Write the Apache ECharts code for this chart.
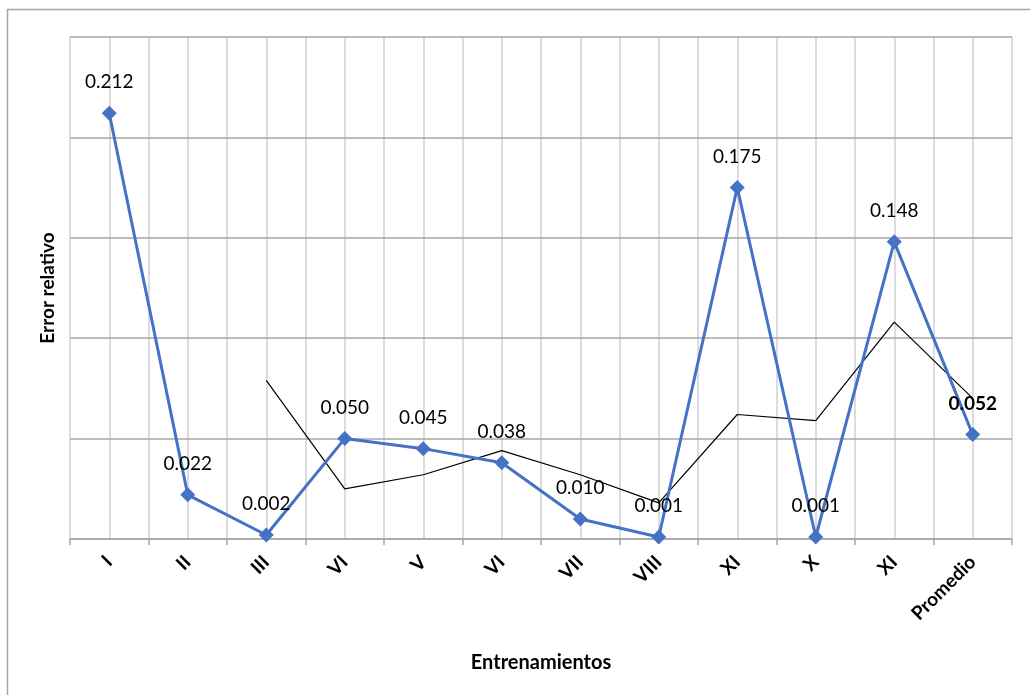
<!DOCTYPE html>
<html>
<head>
<meta charset="utf-8">
<style>
  html, body { margin: 0; padding: 0; background: #ffffff; }
  #chart { width: 1030px; height: 695px; }
</style>
<script src="https://cdn.jsdelivr.net/npm/echarts@6/dist/echarts.min.js"></script>
</head>
<body>
<div id="chart"></div>
<script>
// Training runs and their relative error
const categories = ['I', 'II', 'III', 'VI', 'V', 'VI', 'VII', 'VIII', 'XI', 'X', 'XI', 'Promedio'];
const relativeError = [0.212, 0.022, 0.002, 0.050, 0.045, 0.038, 0.010, 0.001, 0.175, 0.001, 0.148, 0.052];
// Trend line (moving average) as drawn, starting at the third run
const trendLine = [null, null, 0.079, 0.025, 0.032, 0.044, 0.032, 0.018, 0.062, 0.059, 0.108, 0.070];
// Value axis range
const yMin = 0, yMax = 0.25, yStep = 0.05;

const FONT = 'Lato, "Open Sans", "DejaVu Sans", sans-serif';
const chart = echarts.init(document.getElementById('chart'), null, { renderer: 'canvas' });

chart.setOption({
  backgroundColor: '#ffffff',
  animation: false,
  graphic: [{
    type: 'rect',
    silent: true,
    z: -10,
    shape: { x: 7.5, y: 9.5, width: 1200, height: 900 },
    style: { fill: 'none', stroke: '#a6a6a6', lineWidth: 1.5 }
  }],
  grid: { left: 70, right: 18, top: 37, bottom: 156, containLabel: false },
  xAxis: [{
    type: 'category',
    data: categories,
    boundaryGap: true,
    name: 'Entrenamientos',
    nameLocation: 'middle',
    nameGap: 114,
    nameTextStyle: { fontFamily: FONT, fontWeight: 'bold', fontSize: 20, color: '#000' },
    axisLine: { show: true, lineStyle: { color: '#a6a6a6', width: 1.5 } },
    axisTick: { show: true, alignWithLabel: false, length: 6, lineStyle: { color: '#a6a6a6', width: 1.5 } },
    axisLabel: {
      rotate: 45, margin: 20, interval: 0,
      fontFamily: FONT, fontWeight: 'bold', fontSize: 19, color: '#000'
    },
    splitLine: { show: false },
    z: 3
  }, {
    // half-step vertical gridlines (boundaries and category centres)
    type: 'value',
    min: 0, max: categories.length * 2, interval: 1,
    position: 'bottom',
    axisLine: { show: false },
    axisTick: { show: false },
    axisLabel: { show: false },
    splitLine: { show: true, lineStyle: { color: '#d0d0d0', width: 1.5 } }
  }],
  yAxis: {
    type: 'value',
    min: yMin, max: yMax, interval: yStep,
    name: 'Error relativo',
    nameLocation: 'middle',
    nameGap: 13,
    nameTextStyle: { fontFamily: FONT, fontWeight: 'bold', fontSize: 19, color: '#000' },
    axisLine: { show: false },
    axisTick: { show: false },
    axisLabel: { show: false },
    splitLine: { show: true, lineStyle: { color: '#a6a6a6', width: 1.5 } },
    z: 2
  },
  series: [{
    name: 'Tendencia',
    type: 'line',
    xAxisIndex: 0,
    data: trendLine,
    symbol: 'none',
    lineStyle: { color: '#000000', width: 1.2 },
    z: 4
  }, {
    name: 'Error relativo',
    type: 'line',
    xAxisIndex: 0,
    data: relativeError.map((v, i) => i === relativeError.length - 1
      ? { value: v, label: { fontWeight: 'bold' } }
      : v),
    symbol: 'diamond',
    symbolSize: 15,
    itemStyle: { color: '#4472c4' },
    lineStyle: { color: '#4472c4', width: 3 },
    label: {
      show: true,
      position: 'top',
      distance: 14,
      fontFamily: FONT,
      fontSize: 19,
      color: '#000',
      formatter: p => p.value.toFixed(3)
    },
    z: 5
  }]
});
</script>
</body>
</html>
